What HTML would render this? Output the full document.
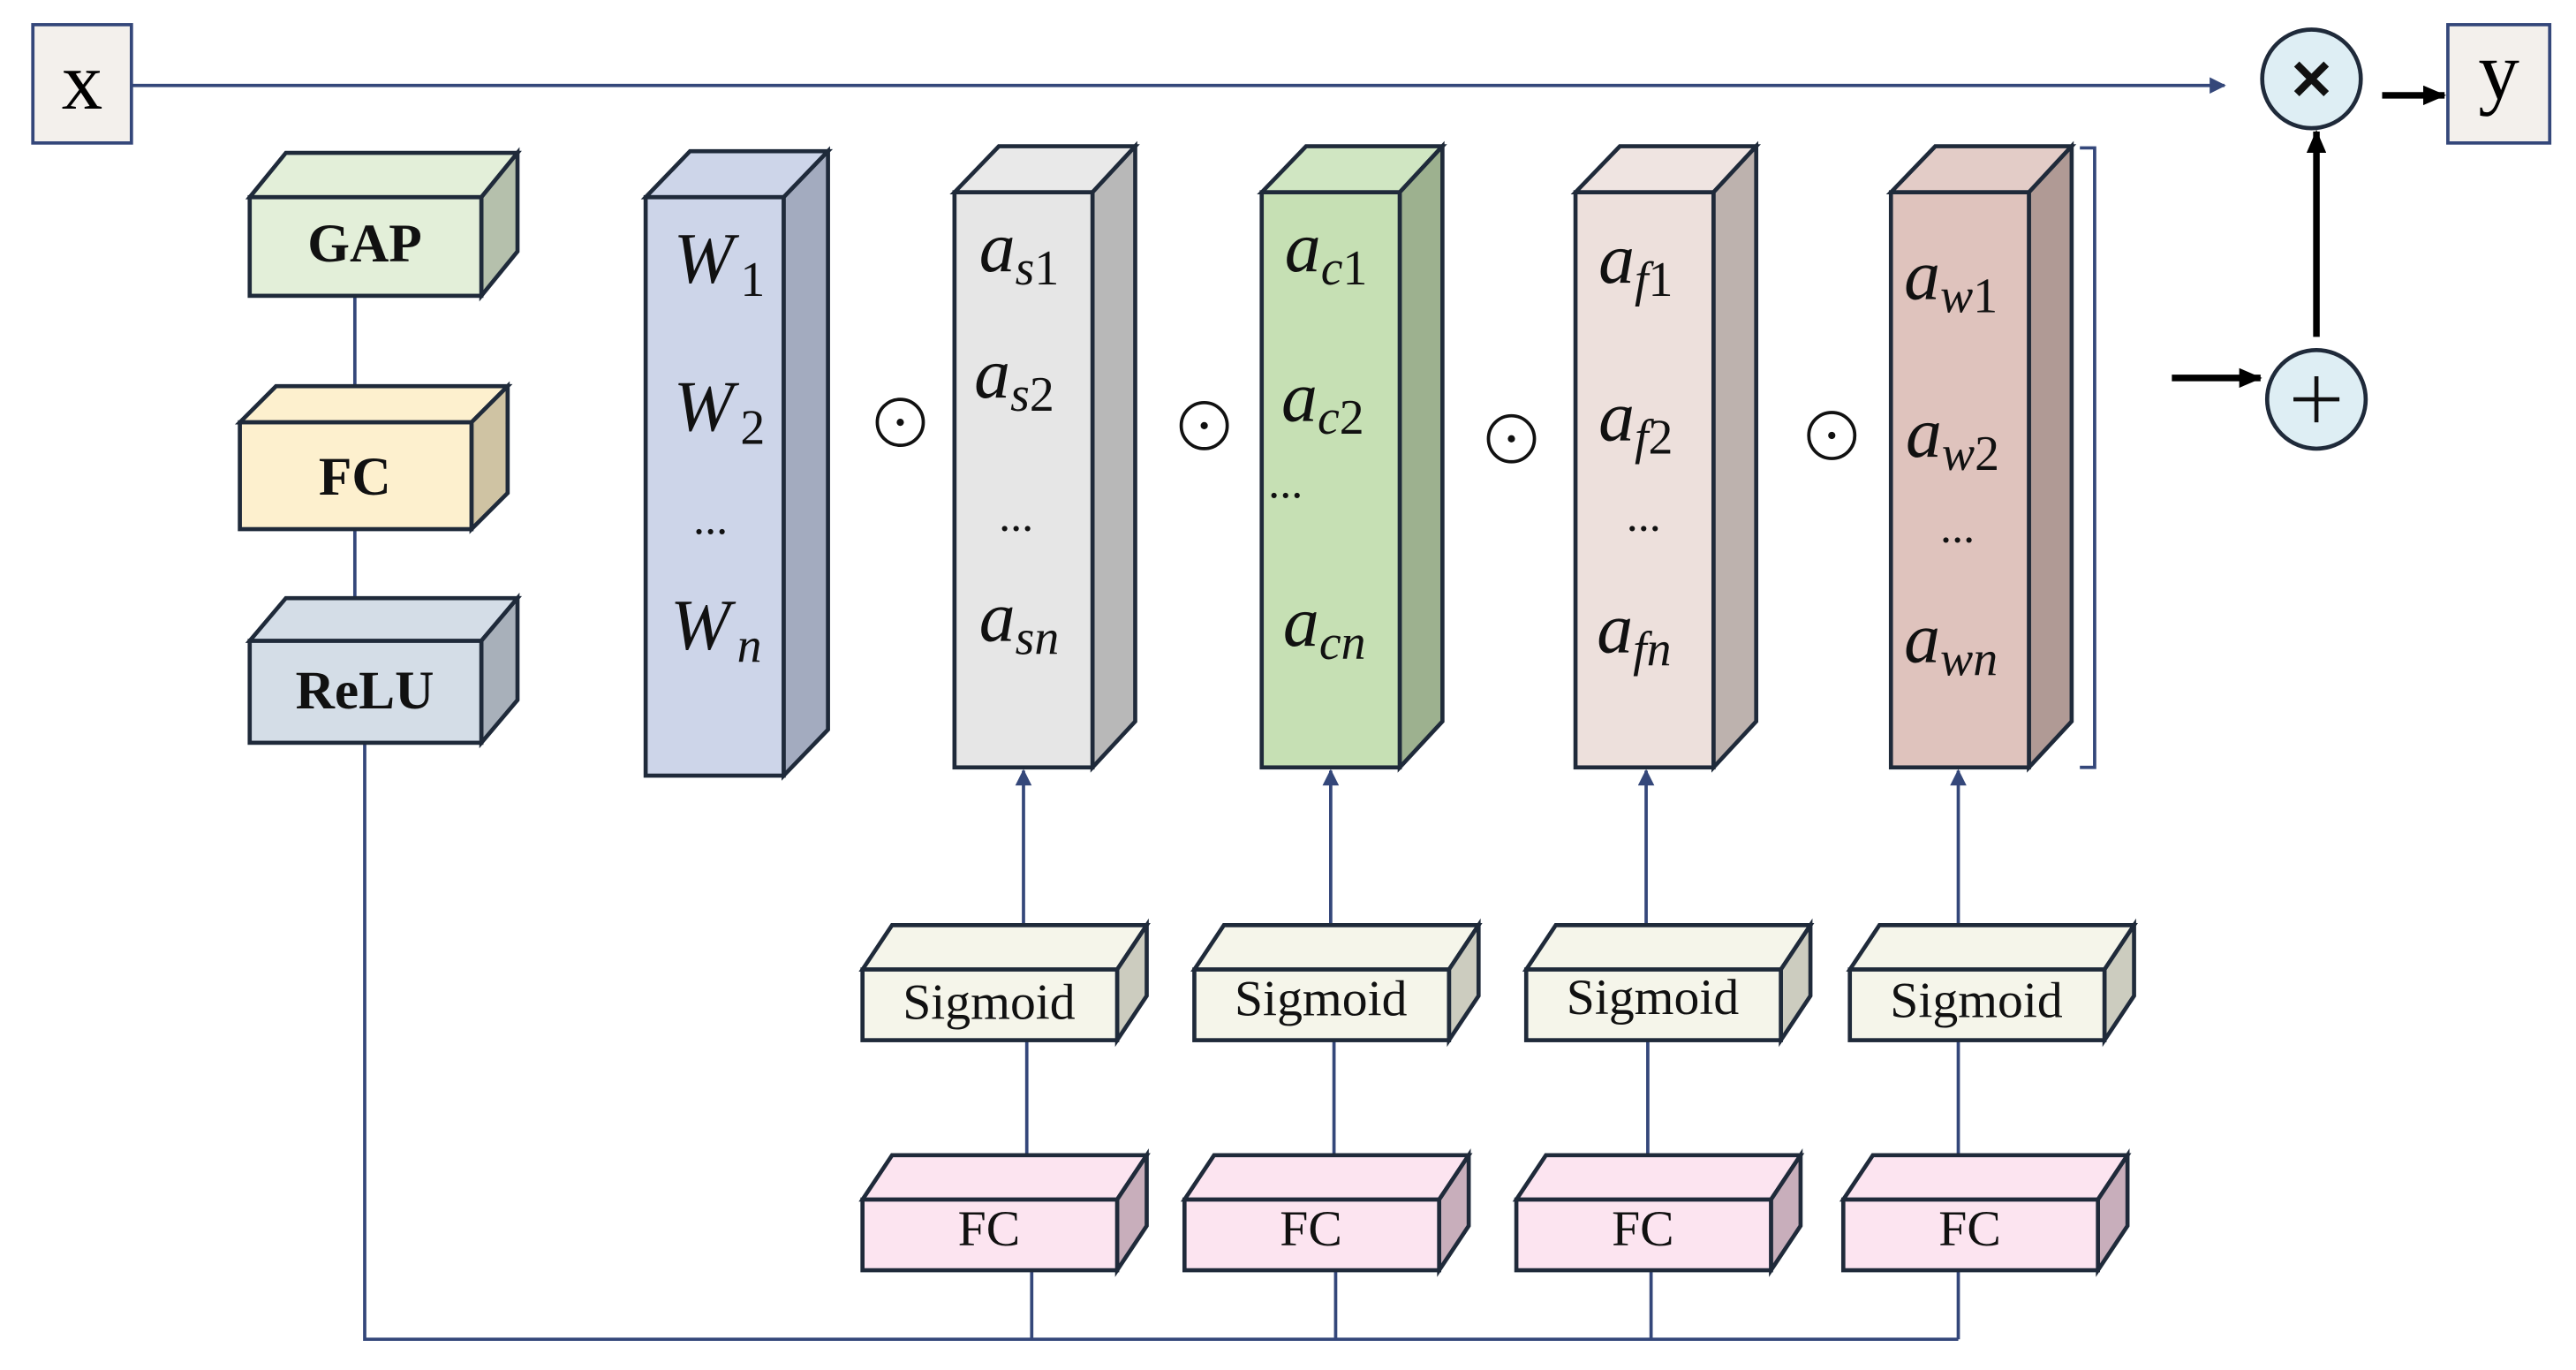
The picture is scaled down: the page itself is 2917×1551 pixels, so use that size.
<!DOCTYPE html>
<html><head><meta charset="utf-8"><style>
html,body{margin:0;padding:0;background:#fff;}
svg{display:block;}
text{font-family:"Liberation Serif",serif;}
.m{font-style:italic;font-size:44px;fill:#111;}
.s{font-size:30px;}
</style></head><body>
<svg width="2917" height="1551" viewBox="0 0 1568 833.7" xmlns="http://www.w3.org/2000/svg">
<defs>
<marker id="ah" markerWidth="10" markerHeight="10" refX="9" refY="5" orient="auto" markerUnits="userSpaceOnUse"><path d="M0,0 L10,5 L0,10 z" fill="#34477a"/></marker>
<marker id="bh" markerWidth="14" markerHeight="12" refX="13" refY="6" orient="auto" markerUnits="userSpaceOnUse"><path d="M0,0 L14,6 L0,12 z" fill="#000"/></marker>
</defs>
<rect width="1568" height="834" fill="#fff"/>
<g stroke="#34477a" stroke-width="2" fill="none">
<line x1="80" y1="52" x2="1354" y2="52" marker-end="url(#ah)"/>
<line x1="216" y1="180" x2="216" y2="257"/>
<line x1="216" y1="322" x2="216" y2="390"/>
<polyline points="222,452 222,815 1192,815"/>
<line x1="623" y1="563" x2="623" y2="469" marker-end="url(#ah)"/>
<line x1="810" y1="563" x2="810" y2="469" marker-end="url(#ah)"/>
<line x1="1002" y1="563" x2="1002" y2="469" marker-end="url(#ah)"/>
<line x1="1192" y1="563" x2="1192" y2="469" marker-end="url(#ah)"/>
<line x1="625" y1="633" x2="625" y2="703"/><line x1="812" y1="633" x2="812" y2="703"/>
<line x1="1003" y1="633" x2="1003" y2="703"/><line x1="1192" y1="633" x2="1192" y2="703"/>
<line x1="628" y1="773" x2="628" y2="815"/><line x1="813" y1="773" x2="813" y2="815"/>
<line x1="1005" y1="773" x2="1005" y2="815"/><line x1="1192" y1="773" x2="1192" y2="815"/>
<polyline points="1266,90 1275,90 1275,467 1266,467"/>
</g>
<rect x="20" y="15" width="60" height="72" fill="#f3f0ec" stroke="#34477a" stroke-width="2"/>
<text x="50" y="66" font-size="50" text-anchor="middle">x</text>
<rect x="1490" y="15" width="62" height="72" fill="#f3f0ec" stroke="#34477a" stroke-width="2"/>
<text x="1521" y="60" font-size="50" text-anchor="middle">y</text>
<circle cx="1407" cy="48" r="30" fill="#deeef4" stroke="#1f2a3a" stroke-width="2.5"/>
<g stroke="#111" stroke-width="4.5"><line x1="1398" y1="39" x2="1416" y2="57"/><line x1="1416" y1="39" x2="1398" y2="57"/></g>
<circle cx="1410" cy="243" r="30" fill="#deeef4" stroke="#1f2a3a" stroke-width="2.5"/>
<g stroke="#111" stroke-width="2.5"><line x1="1396" y1="243" x2="1424" y2="243"/><line x1="1410" y1="229" x2="1410" y2="257"/></g>
<g stroke="#000" stroke-width="4">
<line x1="1450" y1="58" x2="1488" y2="58" marker-end="url(#bh)"/>
<line x1="1322" y1="230" x2="1376" y2="230" marker-end="url(#bh)"/>
<line x1="1410" y1="205" x2="1410" y2="80" marker-end="url(#bh)"/>
</g>
<g stroke="#1f2a3a" stroke-width="2.5" stroke-linejoin="miter">
<polygon points="152,120 174,93 315,93 293,120" fill="#e3efd9"/>
<polygon points="293,120 315,93 315,153 293,180" fill="#b5c0ac"/>
<rect x="152" y="120" width="141" height="60" fill="#e3efd9"/>
<polygon points="146,257 168,235 309,235 287,257" fill="#fdf0ce"/>
<polygon points="287,257 309,235 309,300 287,322" fill="#cfc3a3"/>
<rect x="146" y="257" width="141" height="65" fill="#fdf0ce"/>
<polygon points="152,390 174,364 315,364 293,390" fill="#d4dde7"/>
<polygon points="293,390 315,364 315,426 293,452" fill="#a8b0ba"/>
<rect x="152" y="390" width="141" height="62" fill="#d4dde7"/>
<polygon points="393,120 420,92 504,92 477,120" fill="#cdd5e9"/>
<polygon points="477,120 504,92 504,444 477,472" fill="#a3abbf"/>
<rect x="393" y="120" width="84" height="352" fill="#cdd5e9"/>
<polygon points="581,117 608,89 691,89 665,117" fill="#e9e9e9"/>
<polygon points="665,117 691,89 691,439 665,467" fill="#b8b8b8"/>
<rect x="581" y="117" width="84" height="350" fill="#e6e6e6"/>
<polygon points="768,117 795,89 878,89 852,117" fill="#d0e6c2"/>
<polygon points="852,117 878,89 878,439 852,467" fill="#9db18f"/>
<rect x="768" y="117" width="84" height="350" fill="#c6e0b4"/>
<polygon points="959,117 986,89 1069,89 1043,117" fill="#efe4e1"/>
<polygon points="1043,117 1069,89 1069,439 1043,467" fill="#bdb2ae"/>
<rect x="959" y="117" width="84" height="350" fill="#ede0dc"/>
<polygon points="1151,117 1178,89 1261,89 1235,117" fill="#e3ccc7"/>
<polygon points="1235,117 1261,89 1261,439 1235,467" fill="#b09a95"/>
<rect x="1151" y="117" width="84" height="350" fill="#dfc3bd"/>
</g>
<g font-size="33" font-weight="bold" text-anchor="middle" fill="#111">
<text x="222" y="159">GAP</text>
<text x="216" y="301">FC</text>
<text x="222" y="431">ReLU</text>
</g>
<g stroke="#1f2a3a" stroke-width="2.5">
<polygon points="525,590 543,563 698,563 680,590" fill="#f5f5ea"/><polygon points="680,590 698,563 698,606 680,633" fill="#ccccbf"/><rect x="525" y="590" width="155" height="43" fill="#f5f5ea"/>
<polygon points="727,590 745,563 900,563 882,590" fill="#f5f5ea"/><polygon points="882,590 900,563 900,606 882,633" fill="#ccccbf"/><rect x="727" y="590" width="155" height="43" fill="#f5f5ea"/>
<polygon points="929,590 947,563 1102,563 1084,590" fill="#f5f5ea"/><polygon points="1084,590 1102,563 1102,606 1084,633" fill="#ccccbf"/><rect x="929" y="590" width="155" height="43" fill="#f5f5ea"/>
<polygon points="1126,590 1144,563 1299,563 1281,590" fill="#f5f5ea"/><polygon points="1281,590 1299,563 1299,606 1281,633" fill="#ccccbf"/><rect x="1126" y="590" width="155" height="43" fill="#f5f5ea"/>
<polygon points="525,730 543,703 698,703 680,730" fill="#fce4f0"/><polygon points="680,730 698,703 698,746 680,773" fill="#c8aebb"/><rect x="525" y="730" width="155" height="43" fill="#fce4f0"/>
<polygon points="721,730 739,703 894,703 876,730" fill="#fce4f0"/><polygon points="876,730 894,703 894,746 876,773" fill="#c8aebb"/><rect x="721" y="730" width="155" height="43" fill="#fce4f0"/>
<polygon points="923,730 941,703 1096,703 1078,730" fill="#fce4f0"/><polygon points="1078,730 1096,703 1096,746 1078,773" fill="#c8aebb"/><rect x="923" y="730" width="155" height="43" fill="#fce4f0"/>
<polygon points="1122,730 1140,703 1295,703 1277,730" fill="#fce4f0"/><polygon points="1277,730 1295,703 1295,746 1277,773" fill="#c8aebb"/><rect x="1122" y="730" width="155" height="43" fill="#fce4f0"/>
</g>
<g font-size="31" text-anchor="middle" fill="#111">
<text x="602" y="620">Sigmoid</text><text x="804" y="618">Sigmoid</text><text x="1006" y="617">Sigmoid</text><text x="1203" y="619">Sigmoid</text>
<text x="602" y="758">FC</text><text x="798" y="758">FC</text><text x="1000" y="758">FC</text><text x="1199" y="758">FC</text>
</g>
<g fill="none" stroke="#111" stroke-width="2">
<circle cx="548" cy="257" r="14"/><circle cx="733" cy="259" r="14"/><circle cx="920" cy="267" r="14"/><circle cx="1115" cy="265" r="14"/>
</g>
<g fill="#111"><circle cx="548" cy="257" r="2.2"/><circle cx="733" cy="259" r="2.2"/><circle cx="920" cy="267" r="2.2"/><circle cx="1115" cy="265" r="2.2"/></g>
<g class="m">
<text x="410" y="172">W<tspan class="s" dy="8" dx="4" font-style="normal">1</tspan></text>
<text x="410" y="262">W<tspan class="s" dy="8" dx="4" font-style="normal">2</tspan></text>
<text x="422" y="325" font-style="normal" font-size="28">...</text>
<text x="408" y="395">W<tspan class="s" dy="8" dx="4">n</tspan></text>
<text x="596" y="165">a<tspan class="s" dy="8">s</tspan><tspan class="s" font-style="normal">1</tspan></text>
<text x="593" y="242">a<tspan class="s" dy="8">s</tspan><tspan class="s" font-style="normal">2</tspan></text>
<text x="608" y="323" font-style="normal" font-size="28">...</text>
<text x="596" y="390">a<tspan class="s" dy="8">sn</tspan></text>
<text x="782" y="165">a<tspan class="s" dy="8">c</tspan><tspan class="s" font-style="normal">1</tspan></text>
<text x="780" y="256">a<tspan class="s" dy="8">c</tspan><tspan class="s" font-style="normal">2</tspan></text>
<text x="772" y="303" font-style="normal" font-size="28">...</text>
<text x="781" y="393">a<tspan class="s" dy="8">cn</tspan></text>
<text x="973" y="172">a<tspan class="s" dy="8">f</tspan><tspan class="s" font-style="normal">1</tspan></text>
<text x="973" y="268">a<tspan class="s" dy="8">f</tspan><tspan class="s" font-style="normal">2</tspan></text>
<text x="990" y="323" font-style="normal" font-size="28">...</text>
<text x="972" y="397">a<tspan class="s" dy="8">fn</tspan></text>
<text x="1159" y="182">a<tspan class="s" dy="8">w</tspan><tspan class="s" font-style="normal">1</tspan></text>
<text x="1160" y="278">a<tspan class="s" dy="8">w</tspan><tspan class="s" font-style="normal">2</tspan></text>
<text x="1181" y="330" font-style="normal" font-size="28">...</text>
<text x="1159" y="403">a<tspan class="s" dy="8">wn</tspan></text>
</g>
</svg>
</body></html>
